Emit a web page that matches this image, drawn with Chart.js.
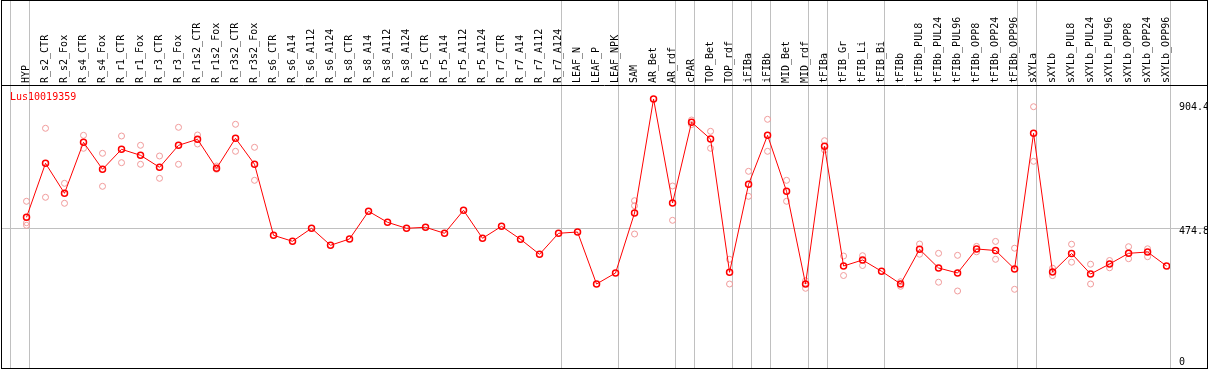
<!DOCTYPE html>
<html>
<head>
<meta charset="utf-8">
<script src="https://cdn.jsdelivr.net/npm/chart.js@4.4.1/dist/chart.umd.min.js"></script>
<style>
  body { margin: 0; background: #fff; }
  #frame { position: absolute; left: 1px; top: 0; width: 1205px; height: 367px; border: 1px solid #000; }
  canvas { display: block; }
</style>
</head>
<body>
<div id="frame"><canvas id="chart" width="1205" height="367"></canvas></div>
<script>
// --- data ---
const geneLabel = "Lus10019359";

const categories = [
  "HYP", "R_s2_CTR", "R_s2_Fox", "R_s4_CTR", "R_s4_Fox", "R_r1_CTR", "R_r1_Fox", "R_r3_CTR", "R_r3_Fox", "R_r1s2_CTR",
  "R_r1s2_Fox", "R_r3s2_CTR", "R_r3s2_Fox", "R_s6_CTR", "R_s6_A14", "R_s6_A112", "R_s6_A124", "R_s8_CTR", "R_s8_A14", "R_s8_A112",
  "R_s8_A124", "R_r5_CTR", "R_r5_A14", "R_r5_A112", "R_r5_A124", "R_r7_CTR", "R_r7_A14", "R_r7_A112", "R_r7_A124", "LEAF_N",
  "LEAF_P", "LEAF_NPK", "SAM", "AR_Bet", "AR_rdf", "cPAR", "TOP_Bet", "TOP_rdf", "iFIBa", "iFIBb",
  "MID_Bet", "MID_rdf", "tFIBa", "tFIB_Gr", "tFIB_Li", "tFIB_Bi", "tFIBb", "tFIBb_PUL8", "tFIBb_PUL24", "tFIBb_PUL96",
  "tFIBb_OPP8", "tFIBb_OPP24", "tFIBb_OPP96", "sXYLa", "sXYLb", "sXYLb_PUL8", "sXYLb_PUL24", "sXYLb_PUL96", "sXYLb_OPP8", "sXYLb_OPP24",
  "sXYLb_OPP96",
];

// mean expression (line + dark circles)
const meanValues = [
  512.8, 699.1, 595.6, 771.6, 678.4, 747.4, 726.7, 685.3, 761.2, 781.9,
  681.8, 785.4, 695.7, 450.7, 430.0, 474.8, 416.2, 437.9, 533.5, 495.5,
  474.8, 478.3, 457.6, 536.9, 440.3, 481.7, 436.9, 385.1, 457.6, 462.0,
  282.6, 320.6, 527.6, 921.0, 562.1, 840.6, 783.0, 323.0, 626.6, 795.7,
  602.5, 282.6, 757.8, 344.7, 365.4, 326.4, 283.0, 402.3, 337.8, 320.6,
  403.4, 398.2, 334.4, 802.6, 324.0, 387.9, 317.1, 351.6, 388.5, 393.0,
  344.7,
];

// replicates (light circles)
const rep1 = [
  568.0, 819.9, 630.1, 795.7, 733.6, 793.3, 761.2, 724.3, 823.3, 796.8,
  689.8, 833.7, 754.3, null, null, null, null, null, null, null,
  null, null, null, null, null, null, null, null, null, null,
  null, null, 570.0, null, 620.8, 848.5, 809.5, 367.8, 671.5, 850.9,
  640.4, 294.0, 777.1, 379.2, 380.3, null, 290.5, 420.6, 388.5, 381.6,
  412.4, 429.6, 406.1, 894.4, 337.1, 419.9, 350.9, 363.7, 411.3, 404.1,
  null,
];
const rep2 = [
  494.1, 581.8, 561.1, 750.9, 619.7, 701.2, 695.7, 647.3, 695.7, 765.7,
  678.4, 740.5, 640.4, null, null, null, null, null, null, null,
  null, null, null, null, null, null, null, null, null, null,
  null, null, 552.8, null, 502.4, 832.7, 750.9, 282.6, 585.2, 740.5,
  568.0, 267.8, 745.0, 311.9, 346.4, null, 274.7, 385.4, 288.8, 258.5,
  393.7, 367.8, 264.3, 706.0, 311.6, 357.8, 282.6, 338.5, 369.9, 376.8,
  null,
];
const rep3 = [
  485.2, null, null, null, null, null, null, null, null, null,
  null, null, null, null, null, null, null, null, null, null,
  null, null, null, null, null, null, null, null, null, null,
  null, null, 455.1, null, null, null, null, null, null, null,
  null, null, null, null, null, null, null, null, null, null,
  null, null, null, null, null, null, null, null, null, null,
  null,
];

// index of the last category of each group (grey separator after it)
const groupEnds = [-1, 0, 28, 31, 34, 35, 37, 38, 39, 41, 42, 45, 52, 53, 60];

const yTickValues = [0, 474.8, 904.4];
const yTickLabels = ["0", "474.8", "904.4"];

// --- chart ---
const monoFont = "DejaVu Sans Mono";
const gridGrey = "#c0c0c0";
const sepOffset = 0.18;
const separators = groupEnds.map((g) => g + sepOffset);
const xTicks = categories.map((_, i) => i).concat(separators).sort((a, b) => a - b);
const isSeparator = (v) => separators.some((s) => Math.abs(s - v) < 1e-6);

const toPoints = (arr) => arr.map((v, i) => ({ x: i, y: v }));

const repStyle = {
  type: "line",
  showLine: false,
  pointRadius: 3,
  pointBorderWidth: 1,
  pointBorderColor: "#f09a9a",
  pointBackgroundColor: "transparent",
};

// black line under the labels and the gene name in the corner
const headerLine = {
  id: "headerLine",
  afterDraw(chart) {
    const { ctx, chartArea } = chart;
    const y = Math.round(chartArea.top) + 0.5;
    ctx.save();
    ctx.strokeStyle = "#000";
    ctx.lineWidth = 1;
    ctx.beginPath();
    ctx.moveTo(0, y);
    ctx.lineTo(chart.width, y);
    ctx.stroke();
    ctx.fillStyle = "#ff0000";
    ctx.font = "10px '" + monoFont + "'";
    ctx.textBaseline = "middle";
    ctx.fillText(chart.data.datasets[0].label, chartArea.left + 8, chartArea.top + 12);
    ctx.restore();
  },
};

new Chart(document.getElementById("chart"), {
  type: "line",
  data: {
    datasets: [
      {
        label: geneLabel,
        data: toPoints(meanValues),
        borderColor: "#ff0000",
        borderWidth: 1,
        tension: 0,
        pointRadius: 3,
        pointBorderWidth: 1.5,
        pointBorderColor: "#ff0000",
        pointBackgroundColor: "transparent",
      },
      { label: "rep1", data: toPoints(rep1), ...repStyle },
      { label: "rep2", data: toPoints(rep2), ...repStyle },
      { label: "rep3", data: toPoints(rep3), ...repStyle },
    ],
  },
  options: {
    responsive: false,
    animation: false,
    layout: { padding: 0, autoPadding: false },
    plugins: { legend: { display: false }, tooltip: { enabled: false } },
    scales: {
      x: {
        type: "linear",
        position: "top",
        min: -1.29,
        max: 60 + sepOffset,
        afterBuildTicks: (scale) => {
          scale.ticks = xTicks.map((v) => ({ value: v }));
        },
        afterFit: (scale) => {
          scale.height = 84;
          scale.paddingLeft = 0;
          scale.paddingRight = 0;
        },
        grid: {
          color: (ctx) => (ctx.tick && isSeparator(ctx.tick.value) ? gridGrey : "transparent"),
          tickLength: 84,
        },
        border: { display: false },
        ticks: {
          autoSkip: false,
          minRotation: 90,
          maxRotation: 90,
          padding: -82,
          labelOffset: 12,
          color: "#000",
          font: { family: monoFont, size: 10 },
          callback: (value) => (Number.isInteger(value) ? categories[value] : ""),
        },
      },
      y: {
        type: "linear",
        position: "right",
        min: -7.25,
        max: 969.3,
        afterBuildTicks: (scale) => {
          scale.ticks = yTickValues.map((v) => ({ value: v }));
        },
        afterFit: (scale) => {
          scale.width = 37;
          scale.paddingTop = 0;
          scale.paddingBottom = 0;
        },
        grid: {
          color: (ctx) => (ctx.index === 1 ? gridGrey : "transparent"),
          tickLength: 37,
        },
        border: { color: gridGrey },
        ticks: {
          padding: -28,
          color: "#000",
          font: { family: monoFont, size: 10, lineHeight: 0.68 },
          callback: (value, index) => (index === 0 ? [yTickLabels[index], ""] : ["", yTickLabels[index]]),
        },
      },
    },
  },
  plugins: [headerLine],
});
</script>
</body>
</html>
